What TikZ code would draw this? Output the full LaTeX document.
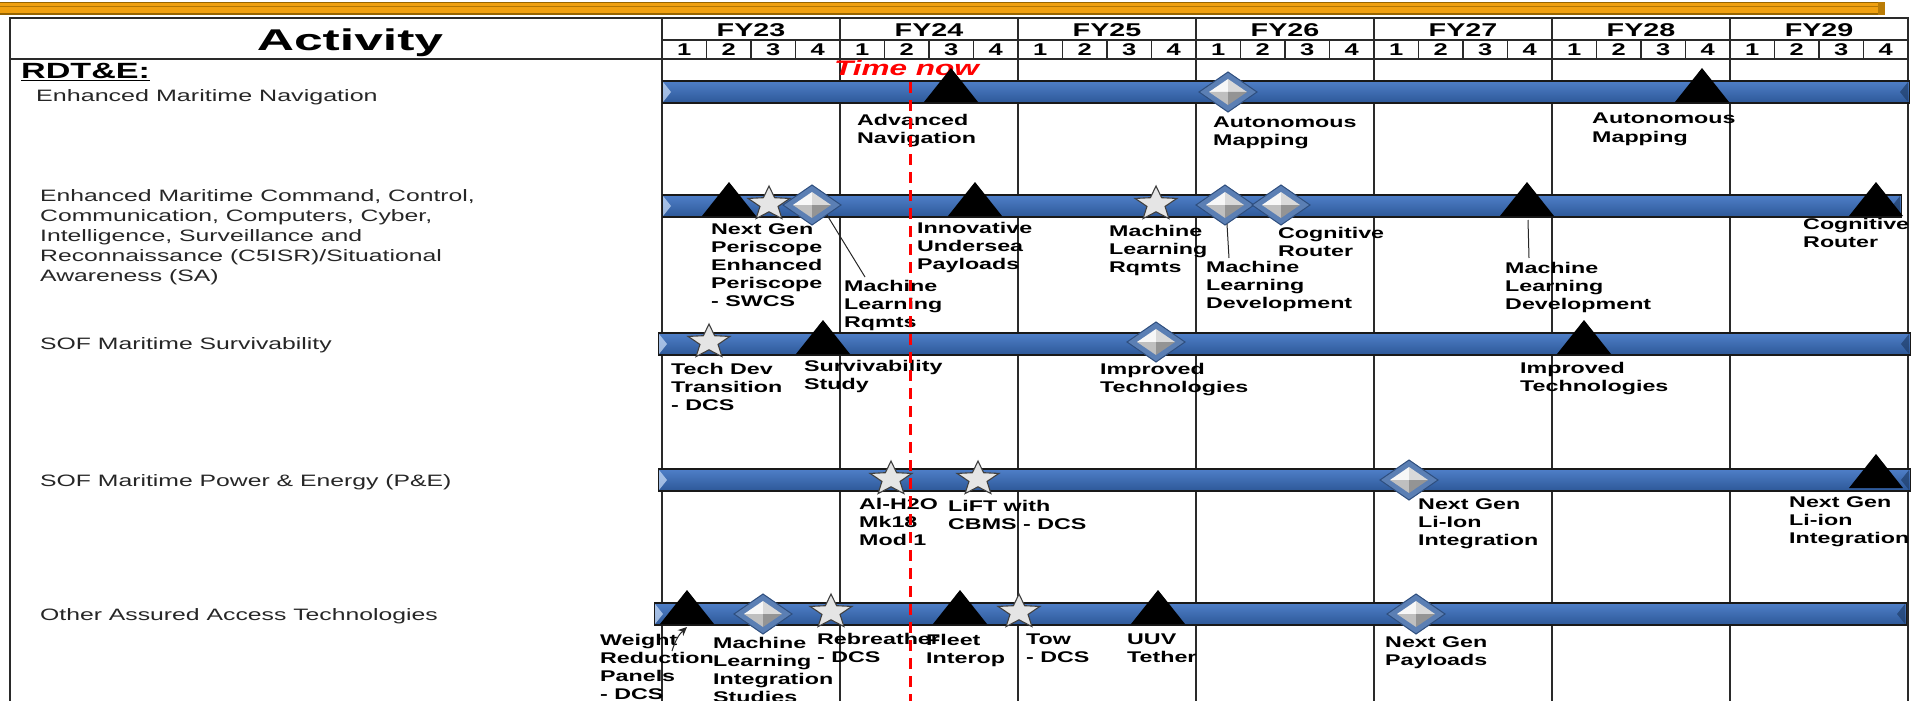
\documentclass[tikz,border=0pt]{standalone}
\usepackage{fontspec}
\setmainfont{Liberation Sans}
\usepackage{graphicx}
\usetikzlibrary{arrows.meta}
\definecolor{barT}{HTML}{4F7FC8}
\definecolor{barM}{HTML}{9CC2F2}
\definecolor{barB}{HTML}{2D5898}
\definecolor{orL}{HTML}{F0A010}
\definecolor{orD}{HTML}{966400}
\definecolor{diaO}{HTML}{5B7FB4}
\definecolor{diaE}{HTML}{2E4E7E}
\definecolor{gridc}{HTML}{2A2A2A}
\newcommand\hs[1]{\scalebox{1.5}[1]{#1}}
\newcommand\hsx[2]{\scalebox{#1}[1]{#2}}
\newcommand\lb[1]{\scalebox{1.5}[1]{\begin{tabular}[t]{@{}l@{}}#1\end{tabular}}}
\newcommand\tlbar[4]{\node[barsty, minimum width={#3-#2}, anchor=west] (#1) at (#2,#4) {};
  \fill[barM!50!white, opacity=0.7] (#2+1,#4-10) -- (#2+9,#4) -- (#2+1,#4+10) -- cycle;
  \fill[barB!70!black, opacity=0.7] (#3-1,#4-10) -- (#3-9,#4) -- (#3-1,#4+10) -- cycle;}
\newcommand\mtri[3]{\coordinate (#1) at (#2,#3);
  \fill[tristy] ([shift={(-27,10)}]#1) -- ([shift={(0,-24)}]#1) -- ([shift={(27,10)}]#1) -- cycle;}
\newcommand\mdia[3]{\coordinate (#1) at (#2,#3);
  \filldraw[fill=diaO, draw=diaE, line width=1pt] ([shift={(-29,0)}]#1) -- ([shift={(0,-20)}]#1) -- ([shift={(29,0)}]#1) -- ([shift={(0,20)}]#1) -- cycle;
  \fill[black!3] ([shift={(-19,0)}]#1) -- ([shift={(0,-13)}]#1) -- (#1) -- cycle;
  \fill[black!15] ([shift={(0,-13)}]#1) -- ([shift={(19,0)}]#1) -- (#1) -- cycle;
  \fill[black!25] ([shift={(-19,0)}]#1) -- ([shift={(0,13)}]#1) -- (#1) -- cycle;
  \fill[black!42] ([shift={(19,0)}]#1) -- ([shift={(0,13)}]#1) -- (#1) -- cycle;}
\newcommand\mstar[3]{\coordinate (#1) at (#2,#3);
  \filldraw[starsty, shift={(#2,#3)}, xscale=1.22] (-90:18) -- (-54:7.8) -- (-18:18) -- (18:7.8) -- (54:18) -- (90:7.8) -- (126:18) -- (162:7.8) -- (198:18) -- (234:7.8) -- cycle;}
\begin{document}
\begin{tikzpicture}[x=1pt,y=-1pt,
  grid/.style={draw=gridc, line width=1.4pt},
  qgrid/.style={draw=gridc, line width=1.2pt},
  barsty/.style={draw=black!90, line width=1.2pt, top color=barT, middle color=barM, bottom color=barB, inner sep=0pt, minimum height=22pt},
  tristy/.style={fill=black},
  starsty/.style={fill=black!10, draw=black!75, line width=1.1pt},
  lbl/.style={anchor=base west, inner sep=0pt, font=\fontsize{15.5}{18}\selectfont\bfseries},
  rowlbl/.style={anchor=base west, inner sep=0pt, font=\fontsize{16.5}{20}\selectfont, text=black!85},
  fy/.style={anchor=base, inner sep=0pt, font=\fontsize{18.5}{20}\selectfont\bfseries},
  qn/.style={anchor=base, inner sep=0pt, font=\fontsize{17}{18}\selectfont\bfseries},
  leader/.style={draw=black!85, line width=1pt},
  nowline/.style={draw=red, line width=3pt, dash pattern=on 11pt off 7pt}
]
\useasboundingbox (0,0) rectangle (1923,701);
% orange band
\fill[orL] (0,2) rectangle (1885,15);
\fill[orD] (0,2) rectangle (1885,3.5);
\fill[orD!70!orL] (0,6.5) rectangle (1885,7.5);
\fill[orD] (0,13.5) rectangle (1885,15);
\fill[orD!60!orL] (1878,2) rectangle (1885,15);
% grid
\draw[grid] (10,701) -- (10,18) -- (1908,18) -- (1908,701);
\draw[grid] (10,59) -- (1908,59);
\draw[grid] (662,40) -- (1908,40);
\foreach \i in {0,...,6} \draw[grid] ({662+178*\i},18) -- ({662+178*\i},701);
\foreach \i in {0,...,6} \foreach \q in {1,2,3} \draw[qgrid] ({662+178*\i+44.5*\q},40) -- ({662+178*\i+44.5*\q},59);
% header
\node[anchor=base, inner sep=0pt, font=\fontsize{30}{32}\selectfont\bfseries] (act) at (350,51) {\hsx{1.72}{Activity}};
\foreach \y [count=\i from 0] in {23,...,29} \node[fy] (fy\i) at ({751+178*\i},36.5) {\hsx{1.55}{FY\y}};
\foreach \i in {0,...,6} \foreach \q in {1,...,4} \node[qn] (q\i-\q) at ({662+178*\i+44.5*\q-22.25},56) {\hs{\q}};
\node[anchor=base west, inner sep=0pt, font=\fontsize{22}{24}\selectfont\bfseries] (rdte) at (21,79) {\hsx{1.55}{\underline{RDT\&E:}}};
% row labels
\node[rowlbl] (row1) at (36,101) {\hsx{1.52}{Enhanced Maritime Navigation}};
\node[rowlbl] (row2) at (40,201) {\lb{Enhanced Maritime Command, Control,\\Communication, Computers, Cyber,\\Intelligence, Surveillance and\\Reconnaissance (C5ISR)/Situational\\Awareness (SA)}};
\node[rowlbl] (row3) at (40,349) {\hs{SOF Maritime Survivability}};
\node[rowlbl] (row4) at (40,486) {\hs{SOF Maritime Power \& Energy (P\&E)}};
\node[rowlbl] (row5) at (40,620) {\hs{Other Assured Access Technologies}};
% time now text
\node[anchor=base west, inner sep=0pt, text=red, font=\fontsize{21}{24}\selectfont\bfseries\itshape] (tnow) at (834,76) {\hs{Time now}};
% bars
\tlbar{b1}{662}{1909}{92}
\tlbar{b2}{662}{1901}{206}
\tlbar{b3}{658}{1910}{344}
\tlbar{b4}{658}{1910}{480}
\tlbar{b5}{654}{1906}{614}
% row 1 markers
\mtri{r1a}{951}{92}
\mdia{r1b}{1228}{92}
\mtri{r1c}{1702}{92}
\node[lbl] (l1a) at (857,125) {\lb{Advanced\\Navigation}};
\node[lbl] (l1b) at (1213,127) {\lb{Autonomous\\Mapping}};
\node[lbl] (l1c) at (1592,124) {\lb{Autonomous\\Mapping}};
% row 2
\mtri{r2a}{729}{206}
\mstar{r2b}{769}{204}
\mdia{r2c}{812}{205}
\mtri{r2d}{975}{206}
\mstar{r2e}{1156}{204}
\mdia{r2f}{1225}{205}
\mdia{r2g}{1281}{205}
\mtri{r2h}{1527}{206}
\mtri{r2i}{1876}{206}
\node[lbl] (l2a) at (711,234) {\lb{Next Gen\\Periscope\\Enhanced\\Periscope\\- SWCS}};
\node[lbl] (l2b) at (844,291) {\lb{Machine\\Learning\\Rqmts}};
\node[lbl] (l2c) at (917,233) {\lb{Innovative\\Undersea\\Payloads}};
\node[lbl] (l2d) at (1109,236) {\lb{Machine\\Learning\\Rqmts}};
\node[lbl] (l2e) at (1206,272) {\lb{Machine\\Learning\\Development}};
\node[lbl] (l2f) at (1278,238) {\lb{Cognitive\\Router}};
\node[lbl] (l2g) at (1505,273) {\lb{Machine\\Learning\\Development}};
\node[lbl] (l2h) at (1803,229) {\lb{Cognitive\\Router}};
\coordinate (c2b) at (865,277);
\coordinate (c2e) at (1229,258);
\coordinate (c2g) at (1529,258);
\draw[leader] ([shift={(15,10)}]r2c) -- (c2b);
\draw[leader] ([shift={(2,19)}]r2f) -- (c2e);
\draw[leader] ([shift={(1,14)}]r2h) -- (c2g);
% row 3
\mstar{r3a}{709}{342}
\mtri{r3b}{823}{344}
\mdia{r3c}{1156}{342}
\mtri{r3d}{1584}{344}
\node[lbl] (l3a) at (671,374) {\lb{Tech Dev\\Transition\\- DCS}};
\node[lbl] (l3b) at (804,371) {\lb{Survivability\\Study}};
\node[lbl] (l3c) at (1100,374) {\lb{Improved\\Technologies}};
\node[lbl] (l3d) at (1520,373) {\lb{Improved\\Technologies}};
% row 4
\mstar{r4a}{891}{479}
\mstar{r4b}{978}{479}
\mdia{r4c}{1409}{480}
\mtri{r4d}{1876}{478}
\node[lbl] (l4a) at (859,509) {\lb{Al-H2O\\Mk18\\Mod 1}};
\node[lbl] (l4b) at (948,511) {\lb{LiFT with\\CBMS - DCS}};
\node[lbl] (l4c) at (1418,509) {\lb{Next Gen\\Li-Ion\\Integration}};
\node[lbl] (l4d) at (1789,507) {\lb{Next Gen\\Li-ion\\Integration}};
% row 5
\mtri{r5a}{687}{614}
\mdia{r5b}{763}{614}
\mstar{r5c}{831}{612}
\mtri{r5d}{960}{614}
\mstar{r5e}{1019}{612}
\mtri{r5f}{1158}{614}
\mdia{r5g}{1416}{614}
\node[lbl] (l5a) at (600,645) {\lb{Weight\\Reduction\\Panels\\- DCS}};
\node[lbl] (l5b) at (713,648) {\lb{Machine\\Learning\\Integration\\Studies}};
\node[lbl] (l5c) at (817,644) {\lb{Rebreather\\- DCS}};
\node[lbl] (l5d) at (926,645) {\lb{Fleet\\Interop}};
\node[lbl] (l5e) at (1026,644) {\lb{Tow\\- DCS}};
\node[lbl] (l5f) at (1127,644) {\lb{UUV\\Tether}};
\node[lbl] (l5g) at (1385,647) {\lb{Next Gen\\Payloads}};
\coordinate (c5a) at (672,651);
\draw[leader, -{Stealth[length=9pt,width=8pt]}] (c5a) to[bend left=15] ([shift={(0,13)}]r5a);
% time now line
\coordinate (tn1) at (910,82);
\coordinate (tn2) at (910,701);
\draw[nowline] (tn1) -- (tn2);
\end{tikzpicture}
\end{document}
